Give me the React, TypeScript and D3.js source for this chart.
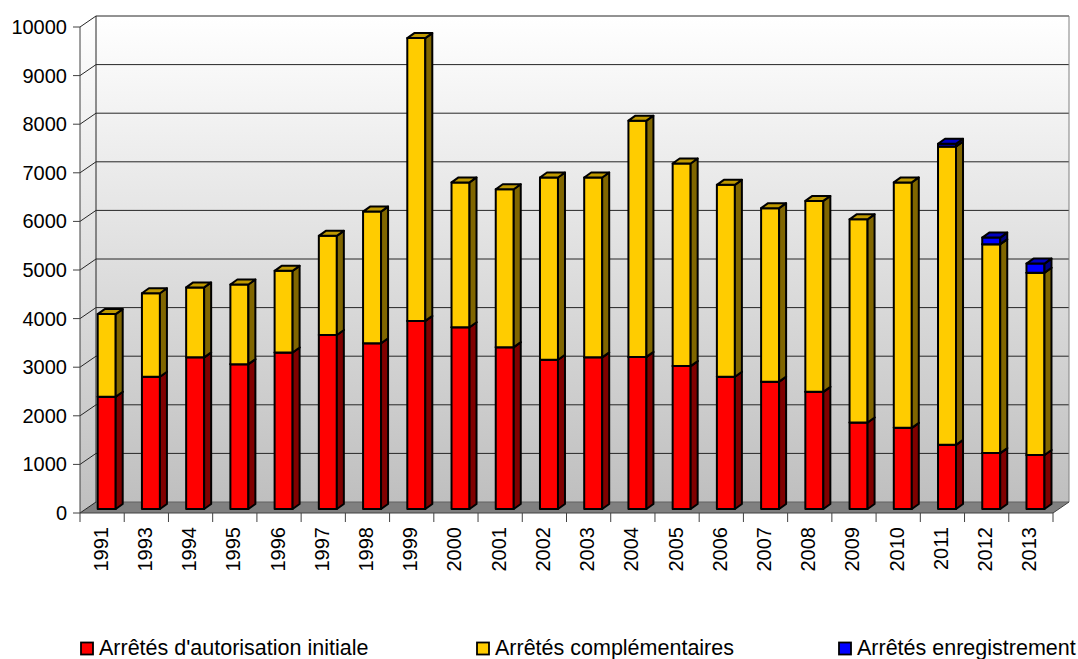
import * as d3 from 'd3';

const years = ['1991', '1993', '1994', '1995', '1996', '1997', '1998', '1999', '2000', '2001', '2002',
  '2003', '2004', '2005', '2006', '2007', '2008', '2009', '2010', '2011', '2012', '2013'];

// Arrêtés d'autorisation initiale
const initiale = [2310, 2720, 3120, 2980, 3220, 3580, 3410, 3870, 3740, 3330, 3070,
  3120, 3130, 2940, 2720, 2620, 2410, 1780, 1670, 1320, 1150, 1110];
// Arrêtés complémentaires
const complementaires = [1700, 1720, 1440, 1640, 1680, 2040, 2710, 5820, 2980, 3250, 3750,
  3700, 4860, 4170, 3950, 3570, 3930, 4180, 5050, 6140, 4300, 3750];
// Arrêtés enregistrement
const enregistrement = [0, 0, 0, 0, 0, 0, 0, 0, 0, 0, 0,
  0, 0, 0, 0, 0, 0, 0, 0, 55, 135, 190];

const yTicks = [0, 1000, 2000, 3000, 4000, 5000, 6000, 7000, 8000, 9000, 10000];

const seriesNames = ["Arrêtés d'autorisation initiale", 'Arrêtés complémentaires', 'Arrêtés enregistrement'];

const palette = [
  { front: '#ff0000', side: '#800000', top: '#c00000' },
  { front: '#ffcc00', side: '#806600', top: '#bf9900' },
  { front: '#0000ff', side: '#000080', top: '#0000c0' },
];

const W = 1078;
const H = 659;
const FONT = "'Liberation Sans', Arial, sans-serif";

// wall depth and bar depth
const DX = 16;
const DY = -11;
const BDX = 7;
const BDY = -5;

export default function App() {
  const x = d3.scaleBand<string>().domain(years).range([80, 1053]);
  const y = d3.scaleLinear().domain([0, 10000]).range([513, 27]);
  const x0 = 80;
  const x1 = 1053;
  const y0 = y(0);
  const yTop = y(10000);
  const barW = 18;
  const barOff = 17.7;
  const barLift = 4;

  const stacks = years.map((yr, i) => {
    const vals = [initiale[i], complementaires[i], enregistrement[i]];
    let acc = 0;
    return vals.map((v, s) => {
      const seg = { s, lo: acc, hi: acc + v, v, yr };
      acc += v;
      return seg;
    }).filter((d) => d.v > 0);
  });

  const legendX = [81, 477, 839];

  return (
    <svg width={W} height={H} style={{ position: 'absolute', left: 0, top: 0, background: '#fff' }}>
      <defs>
        <linearGradient id="wall" x1="0" y1="0" x2="0" y2="1">
          <stop offset="0" stopColor="#ffffff" />
          <stop offset="1" stopColor="#bfbfbf" />
        </linearGradient>
      </defs>
      {/* back wall */}
      <rect x={x0 + DX} y={yTop + DY} width={x1 - x0} height={y0 - yTop} fill="url(#wall)" />
      {/* side wall */}
      <path
        d={`M${x0},${yTop}L${x0 + DX},${yTop + DY}L${x0 + DX},${y0 + DY}L${x0},${y0}Z`}
        fill="url(#wall)"
      />
      {/* floor */}
      <path d={`M${x0},${y0}L${x1},${y0}L${x1 + DX},${y0 + DY}L${x0 + DX},${y0 + DY}Z`} fill="#808080" />
      {/* gridlines */}
      {yTicks.map((t) => (
        <g key={t} stroke="#262626" strokeWidth={1}>
          <line x1={x0} y1={y(t)} x2={x0 + DX} y2={y(t) + DY} />
          {t > 0 && <line x1={x0 + DX} y1={y(t) + DY} x2={x1 + DX} y2={y(t) + DY} />}
        </g>
      ))}
      <line x1={x0 + DX} y1={yTop + DY} x2={x0 + DX} y2={y0 + DY} stroke="#262626" />
      <line x1={x1 + DX} y1={yTop + DY} x2={x1 + DX} y2={y0 + DY} stroke="#808080" />
      <line x1={x0 + DX} y1={y0 + DY} x2={x1 + DX} y2={y0 + DY} stroke="#606060" />
      {/* y axis */}
      <line x1={x0} y1={yTop} x2={x0} y2={y0} stroke="#404040" />
      {yTicks.map((t) => (
        <g key={t}>
          <line x1={x0 - 7} y1={y(t)} x2={x0} y2={y(t)} stroke="#404040" />
          <text x={67} y={y(t)} dy="0.35em" textAnchor="end" fontFamily={FONT} fontSize={20} fill="#000">
            {t}
          </text>
        </g>
      ))}
      {/* x axis */}
      <line x1={x0} y1={y0} x2={x1} y2={y0} stroke="#404040" />
      <line x1={x1} y1={y0} x2={x1 + DX} y2={y0 + DY} stroke="#404040" />
      {[...years.map((yr) => x(yr)!), x1].map((xx, i) => (
        <line key={i} x1={xx} y1={y0} x2={xx} y2={y0 + 9} stroke="#404040" />
      ))}
      {years.map((yr) => {
        const cx = x(yr)! + x.bandwidth() / 2 - 1.5;
        return (
          <text
            key={yr}
            transform={`translate(${cx},527) rotate(-90)`}
            dy="0.35em"
            textAnchor="end"
            fontFamily={FONT}
            fontSize={20}
            fill="#000"
          >
            {yr}
          </text>
        );
      })}
      {/* bars */}
      {stacks.map((segs, i) => {
        const bx = x(years[i])! + barOff;
        return (
          <g key={years[i]} stroke="#000" strokeWidth={2} strokeLinejoin="round">
            {segs.map((d) => {
              const c = palette[d.s];
              const yb = y(d.lo) - barLift;
              const yt = y(d.hi) - barLift;
              return (
                <g key={d.s}>
                  <rect x={bx} y={yt} width={barW} height={yb - yt} fill={c.front} />
                  <path
                    d={`M${bx + barW},${yb}L${bx + barW + BDX},${yb + BDY}L${bx + barW + BDX},${yt + BDY}L${bx + barW},${yt}Z`}
                    fill={c.side}
                  />
                  <path
                    d={`M${bx},${yt}L${bx + BDX},${yt + BDY}L${bx + barW + BDX},${yt + BDY}L${bx + barW},${yt}Z`}
                    fill={c.top}
                  />
                </g>
              );
            })}
          </g>
        );
      })}
      {/* legend */}
      {seriesNames.map((name, s) => (
        <g key={name}>
          <rect x={legendX[s]} y={642.5} width={12} height={12} fill={palette[s].front} stroke="#000" strokeWidth={1.8} />
          <text x={legendX[s] + 18} y={655} fontFamily={FONT} fontSize={21.5} fill="#000">
            {name}
          </text>
        </g>
      ))}
    </svg>
  );
}
